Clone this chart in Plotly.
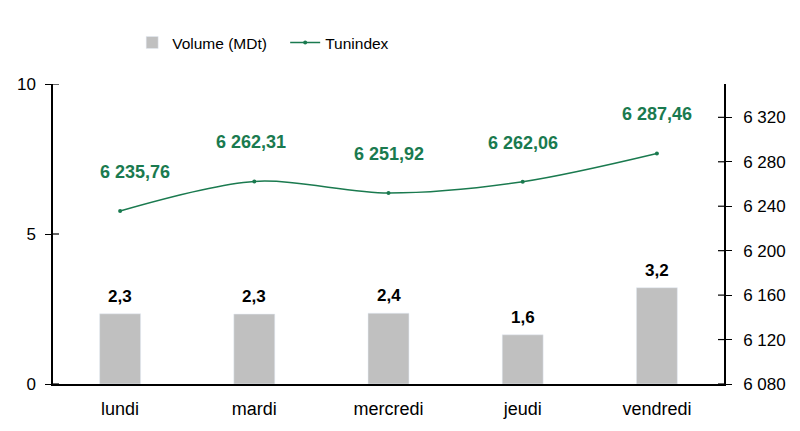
import plotly.graph_objects as go

days = ["lundi", "mardi", "mercredi", "jeudi", "vendredi"]
volume = [2.34, 2.33, 2.36, 1.64, 3.21]
tunindex = [6235.76, 6262.31, 6251.92, 6262.06, 6287.46]
left_ticks = [0, 5, 10]
right_ticks = [6080, 6120, 6160, 6200, 6240, 6280, 6320]

GREEN = "#1a7a4f"
FONT = "Liberation Sans, Arial, sans-serif"
label_xshift = [15, -3, 0, 0, 0]

fig = go.Figure()
fig.add_trace(go.Bar(
    x=days, y=volume, name="Volume (MDt)", marker_color="#c0c0c0",
    yaxis="y", hoverinfo="skip",
))
fig.add_trace(go.Scatter(
    x=days, y=tunindex, name="Tunindex", yaxis="y2", mode="lines+markers",
    line=dict(color=GREEN, width=1.5, shape="spline", smoothing=0.9),
    marker=dict(size=4, color=GREEN), hoverinfo="skip",
))

annotations = []
for d, v in zip(days, volume):
    annotations.append(dict(
        x=d, y=v, xref="x", yref="y", text=f"{v:.1f}".replace(".", ","),
        showarrow=False, yanchor="bottom", yshift=6,
        font=dict(family=FONT, size=17, color="black", weight="bold"),
    ))
for d, v, xs in zip(days, tunindex, label_xshift):
    txt = f"{v:,.2f}".replace(",", " ").replace(".", ",")
    annotations.append(dict(
        x=d, y=v, xref="x", yref="y2", text=txt, showarrow=False,
        yanchor="middle", yshift=39, xshift=xs,
        font=dict(family=FONT, size=18, color=GREEN, weight="bold"),
    ))

shapes = []
for t in left_ticks:
    shapes.append(dict(type="line", xref="paper", yref="y", xsizemode="pixel",
                       xanchor=0, x0=0, x1=6, y0=t, y1=t,
                       line=dict(color="black", width=1.2)))
for t in right_ticks:
    shapes.append(dict(type="line", xref="paper", yref="y2", xsizemode="pixel",
                       xanchor=1, x0=-6, x1=0, y0=t, y1=t,
                       line=dict(color="black", width=1.2)))

fig.update_layout(
    width=800, height=431,
    margin=dict(l=53, r=76, t=84, b=45),
    paper_bgcolor="white", plot_bgcolor="white",
    separators=", ",
    font=dict(family=FONT, size=17, color="black"),
    bargap=0.695,
    showlegend=True,
    legend=dict(orientation="h", x=0.118, xanchor="left", y=1.137, yanchor="middle",
                font=dict(size=15.5), entrywidth=108, traceorder="normal",
                itemwidth=30),
    xaxis=dict(showline=True, linecolor="black", linewidth=1.5, ticks="",
               showgrid=False, range=[-0.5, 4.5], tickfont=dict(size=18),
               ticklabelstandoff=8),
    yaxis=dict(range=[0, 10], tickvals=left_ticks, ticks="outside", ticklen=6,
               tickcolor="black", showline=True, linecolor="black", linewidth=1.5,
               showgrid=False, zeroline=False, ticklabelstandoff=6),
    yaxis2=dict(range=[6080, 6350], tickvals=right_ticks, overlaying="y", side="right",
                ticks="outside", ticklen=6, tickcolor="black", showline=True,
                linecolor="black", linewidth=1.5, showgrid=False, zeroline=False,
                tickformat=",d", ticklabelstandoff=8),
    annotations=annotations,
    shapes=shapes,
)

fig.write_html("out.html", post_script="document.body.style.margin='0';",
               config={"displayModeBar": False})
